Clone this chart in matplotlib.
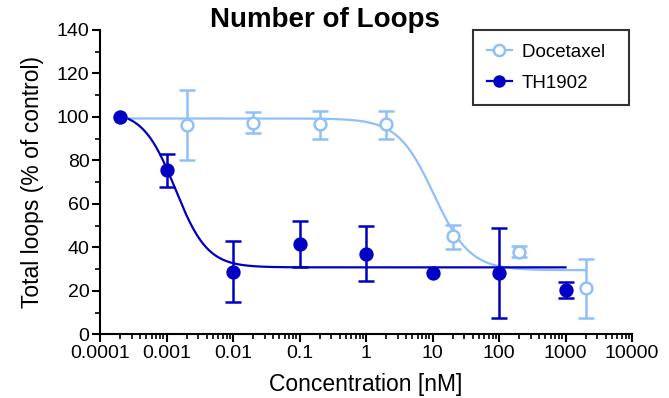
import numpy as np
import matplotlib
matplotlib.use("Agg")
import matplotlib.pyplot as plt
from matplotlib.ticker import FixedLocator, FixedFormatter, LogLocator, MultipleLocator, NullFormatter

plt.rcParams['font.family'] = ['Liberation Sans', 'DejaVu Sans']

# ---- data ----
doc_x = [0.0002, 0.002, 0.02, 0.2, 2, 20, 200, 2000]
doc_y = [100, 96.4, 97.3, 96.8, 96.6, 45.2, 37.9, 21.3]
doc_lo = [100, 80.2, 92.4, 90.0, 90.0, 39.4, 35.4, 7.7]
doc_hi = [100, 112.6, 102.4, 102.9, 102.9, 50.4, 40.6, 34.7]

th_x = [0.0002, 0.001, 0.01, 0.1, 1, 10, 100, 1000]
th_y = [100, 75.4, 28.7, 41.5, 36.9, 28.4, 28.4, 20.4]
th_lo = [100, 67.6, 14.7, 31.0, 24.3, 28.4, 7.7, 16.9]
th_hi = [100, 83.1, 43.0, 52.2, 49.6, 28.4, 49.1, 23.9]

# fitted curve parameters (top, bottom, logIC50, hill)
doc_fit = (99.3, 29.5, 1.02, 1.6)
th_fit = (102.8, 30.8, -2.867, 1.8)
doc_range = (0.0002, 2000)
th_range = (0.0002, 1000)

xticks = [0.0001, 0.001, 0.01, 0.1, 1, 10, 100, 1000, 10000]
xtick_labels = ["0.0001", "0.001", "0.01", "0.1", "1", "10", "100", "1000", "10000"]
yticks = [0, 20, 40, 60, 80, 100, 120, 140]

light = "#90C0F8"
dark = "#0000C2"

fig = plt.figure(figsize=(6.69, 3.98), dpi=100)
ax = fig.add_axes([100/669, 1-334.3/398, 532/669, 304.3/398])

def curve(params, rng):
    t, b, c, h = params
    xs = np.logspace(np.log10(rng[0]), np.log10(rng[1]), 400)
    return xs, b + (t - b) / (1 + 10 ** ((np.log10(xs) - c) * h))

xs, ys = curve(doc_fit, doc_range)
ax.plot(xs, ys, color=light, lw=1.6, zorder=2)
xs, ys = curve(th_fit, th_range)
ax.plot(xs, ys, color=dark, lw=1.6, zorder=3)

def draw(xv, yv, lo, hi, color, filled, z):
    xv = np.array(xv); yv = np.array(yv); lo = np.array(lo); hi = np.array(hi)
    m = hi > lo
    ax.errorbar(xv[m], yv[m], yerr=[yv[m] - lo[m], hi[m] - yv[m]], fmt='none',
                ecolor=color, elinewidth=1.8, capsize=6, capthick=1.8, zorder=z)
    ax.plot(xv, yv, 'o', ms=8.5, mec=color, mew=1.8,
            mfc=(color if filled else 'white'), zorder=z + 0.5)

draw(doc_x, doc_y, doc_lo, doc_hi, light, False, 4)
draw(th_x, th_y, th_lo, th_hi, dark, True, 5)

# legend handles
h1, = ax.plot([], [], '-o', color=light, mfc='white', mec=light, mew=1.8, ms=8, lw=1.6)
h2, = ax.plot([], [], '-o', color=dark, mfc=dark, mec=dark, ms=8, lw=1.6)
leg = fig.legend([h1, h2], ["Docetaxel  ", "TH1902"], loc='upper left',
                 bbox_to_anchor=(473/669, 1-30/398), frameon=True, fancybox=False,
                 fontsize=13.5, handlelength=1.35, borderpad=0.72, labelspacing=0.75,
                 handletextpad=0.55, borderaxespad=0)
leg.get_frame().set_edgecolor('black')
leg.get_frame().set_linewidth(1.5)

ax.set_xscale('log')
ax.set_xlim(0.0001, 10000)
ax.set_ylim(0, 140)
ax.xaxis.set_major_locator(FixedLocator(xticks))
ax.xaxis.set_major_formatter(FixedFormatter(xtick_labels))
ax.xaxis.set_minor_locator(LogLocator(base=10, subs=np.arange(2, 10), numticks=20))
ax.xaxis.set_minor_formatter(NullFormatter())
ax.yaxis.set_major_locator(FixedLocator(yticks))
ax.yaxis.set_minor_locator(MultipleLocator(10))

for s in ['top', 'right']:
    ax.spines[s].set_visible(False)
for s in ['left', 'bottom']:
    ax.spines[s].set_linewidth(1.5)
ax.tick_params(which='major', length=6, width=1.5, labelsize=14, direction='out', pad=1.5)
ax.tick_params(which='minor', length=3.5, width=1.2, direction='out')

ax.set_xlabel("Concentration [nM]", fontsize=16.5, labelpad=8)
ax.set_ylabel("Total loops (% of control)", fontsize=16.5, labelpad=9)
fig.text(325/669, 1-20/398, "Number of Loops", fontsize=20, fontweight='bold',
         ha='center', va='center')

fig.savefig("out.png", dpi=100)
